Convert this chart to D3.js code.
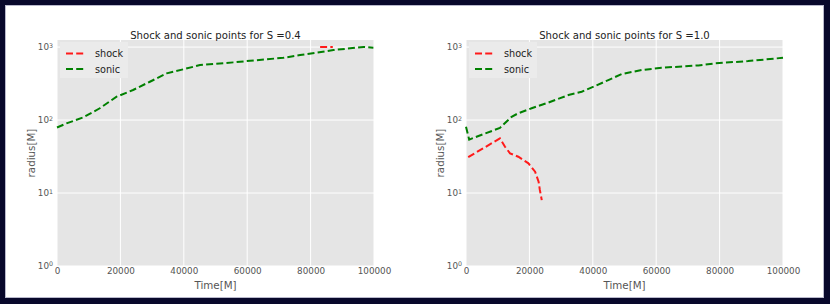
<!DOCTYPE html>
<html lang="en">

<head>
    <meta charset="UTF-8">
    <title>Shock and sonic points</title>
    <script src="https://d3js.org/d3.v7.min.js"></script>
    <style>
        body { margin: 0; background: #08082b; }
        svg { display: block; font-family: "DejaVu Sans", sans-serif; }
    </style>
</head>

<body>
    <svg width="830" height="304"></svg>

    <script>
        // values: [time, radius]
        const sonic04 = [[0, 79], [3000, 90], [8300, 109], [13500, 145], [18800, 209], [24000, 258],
            [29300, 335], [34600, 436], [39800, 495], [45100, 567], [55600, 617], [60900, 649],
            [71400, 713], [76700, 777], [81900, 836], [87200, 910], [92500, 960], [96700, 1004], [99800, 980]];
        const shock04 = [[83000, 1004], [87000, 1004]];

        const sonic10 = [[0, 81], [1000, 54], [10700, 78], [14400, 111], [16500, 124], [20700, 145],
            [25900, 173], [32300, 220], [36500, 244], [40700, 292], [44900, 353], [49100, 427],
            [55400, 484], [61700, 520], [73300, 561], [78500, 598], [89000, 643], [100000, 713]];
        const shock10 = [[700, 31], [10700, 56], [12300, 43], [13900, 35], [16500, 31.4], [19700, 25.5],
            [21800, 19.6], [22900, 14.3], [23300, 11], [23900, 8]];

        const titles = ['Shock and sonic points for S =0.4', 'Shock and sonic points for S =1.0'];
        const xTicks = [0, 20000, 40000, 60000, 80000, 100000];
        const yTicks = [1, 10, 100, 1000];

        const svg = d3.select('svg');

        svg.append('rect')
            .attr('x', 5.5).attr('y', 5.5)
            .attr('width', 818).attr('height', 292)
            .attr('fill', '#fff')
            .attr('stroke', '#b9b9cc');

        const plotTop = 40, plotBottom = 266, plotW = 317;

        function panel(left, title, shock, sonic) {
            const x = d3.scaleLinear().domain([0, 100000]).range([left, left + plotW]);
            const y = d3.scaleLog().domain([1, 1250]).range([plotBottom, plotTop]);

            const g = svg.append('g');

            g.append('rect')
                .attr('x', left).attr('y', plotTop)
                .attr('width', plotW).attr('height', plotBottom - plotTop)
                .attr('fill', '#e5e5e5');

            // grid
            g.selectAll('line.gx').data(xTicks).enter().append('line')
                .attr('x1', d => x(d)).attr('x2', d => x(d))
                .attr('y1', plotTop).attr('y2', plotBottom)
                .attr('stroke', '#fff').attr('stroke-width', 1);
            g.selectAll('line.gy').data(yTicks).enter().append('line')
                .attr('x1', left).attr('x2', left + plotW)
                .attr('y1', d => y(d)).attr('y2', d => y(d))
                .attr('stroke', '#fff').attr('stroke-width', 1);

            // axes
            const xa = g.append('g')
                .attr('transform', `translate(0,${plotBottom})`)
                .call(d3.axisBottom(x).tickValues(xTicks).tickSize(0).tickPadding(2).tickFormat(d3.format('d')));
            xa.select('.domain').remove();
            xa.selectAll('text').attr('font-size', 8.8).attr('fill', '#555')
                .attr('font-family', '"DejaVu Sans", sans-serif');

            const ya = g.append('g')
                .attr('transform', `translate(${left},0)`)
                .call(d3.axisLeft(y).tickValues(yTicks).tickSize(0).tickPadding(4).tickFormat(() => ''));
            ya.select('.domain').remove();
            ya.selectAll('text').each(function (d) {
                const t = d3.select(this)
                    .attr('font-size', 8.8).attr('fill', '#555')
                    .attr('font-family', '"DejaVu Sans", sans-serif');
                t.append('tspan').text('10');
                t.append('tspan').attr('dy', '-0.45em').attr('font-size', 6.3).text(Math.round(Math.log10(d)));
            });

            // lines
            const line = d3.line().x(d => x(d[0])).y(d => y(d[1]));
            g.append('path').datum(sonic).attr('d', line)
                .attr('fill', 'none').attr('stroke', '#008000')
                .attr('stroke-width', 2).attr('stroke-dasharray', '7,3.2');
            g.append('path').datum(shock).attr('d', line)
                .attr('fill', 'none').attr('stroke', '#ff1a1a')
                .attr('stroke-width', 2).attr('stroke-dasharray', '7,3.2');

            // legend
            const lg = g.append('g').attr('transform', `translate(${left + 3},${plotTop + 2})`);
            lg.append('rect').attr('width', 68).attr('height', 36).attr('fill', '#ebebeb');
            const items = [['shock', '#ff1a1a'], ['sonic', '#008000']];
            items.forEach((it, i) => {
                const yy = 11.5 + i * 15.5;
                lg.append('line')
                    .attr('x1', 6).attr('x2', 26).attr('y1', yy).attr('y2', yy)
                    .attr('stroke', it[1]).attr('stroke-width', 2).attr('stroke-dasharray', '7,3.2');
                lg.append('text')
                    .attr('x', 35).attr('y', yy + 3.8)
                    .attr('font-size', 9.7).attr('fill', '#222')
                    .text(it[0]);
            });

            // labels
            g.append('text')
                .attr('x', left + plotW / 2).attr('y', 38.5)
                .attr('text-anchor', 'middle')
                .attr('font-size', 10.1).attr('fill', '#222')
                .text(title);
            g.append('text')
                .attr('x', left + plotW / 2).attr('y', 289)
                .attr('text-anchor', 'middle')
                .attr('font-size', 10.3).attr('fill', '#555')
                .text('Time[M]');
            g.append('text')
                .attr('transform', `translate(${left - 22},${(plotTop + plotBottom) / 2}) rotate(-90)`)
                .attr('text-anchor', 'middle')
                .attr('font-size', 10.3).attr('fill', '#555')
                .text('radius[M]');
        }

        panel(57, titles[0], shock04, sonic04);
        panel(466, titles[1], shock10, sonic10);
    </script>
</body>

</html>
